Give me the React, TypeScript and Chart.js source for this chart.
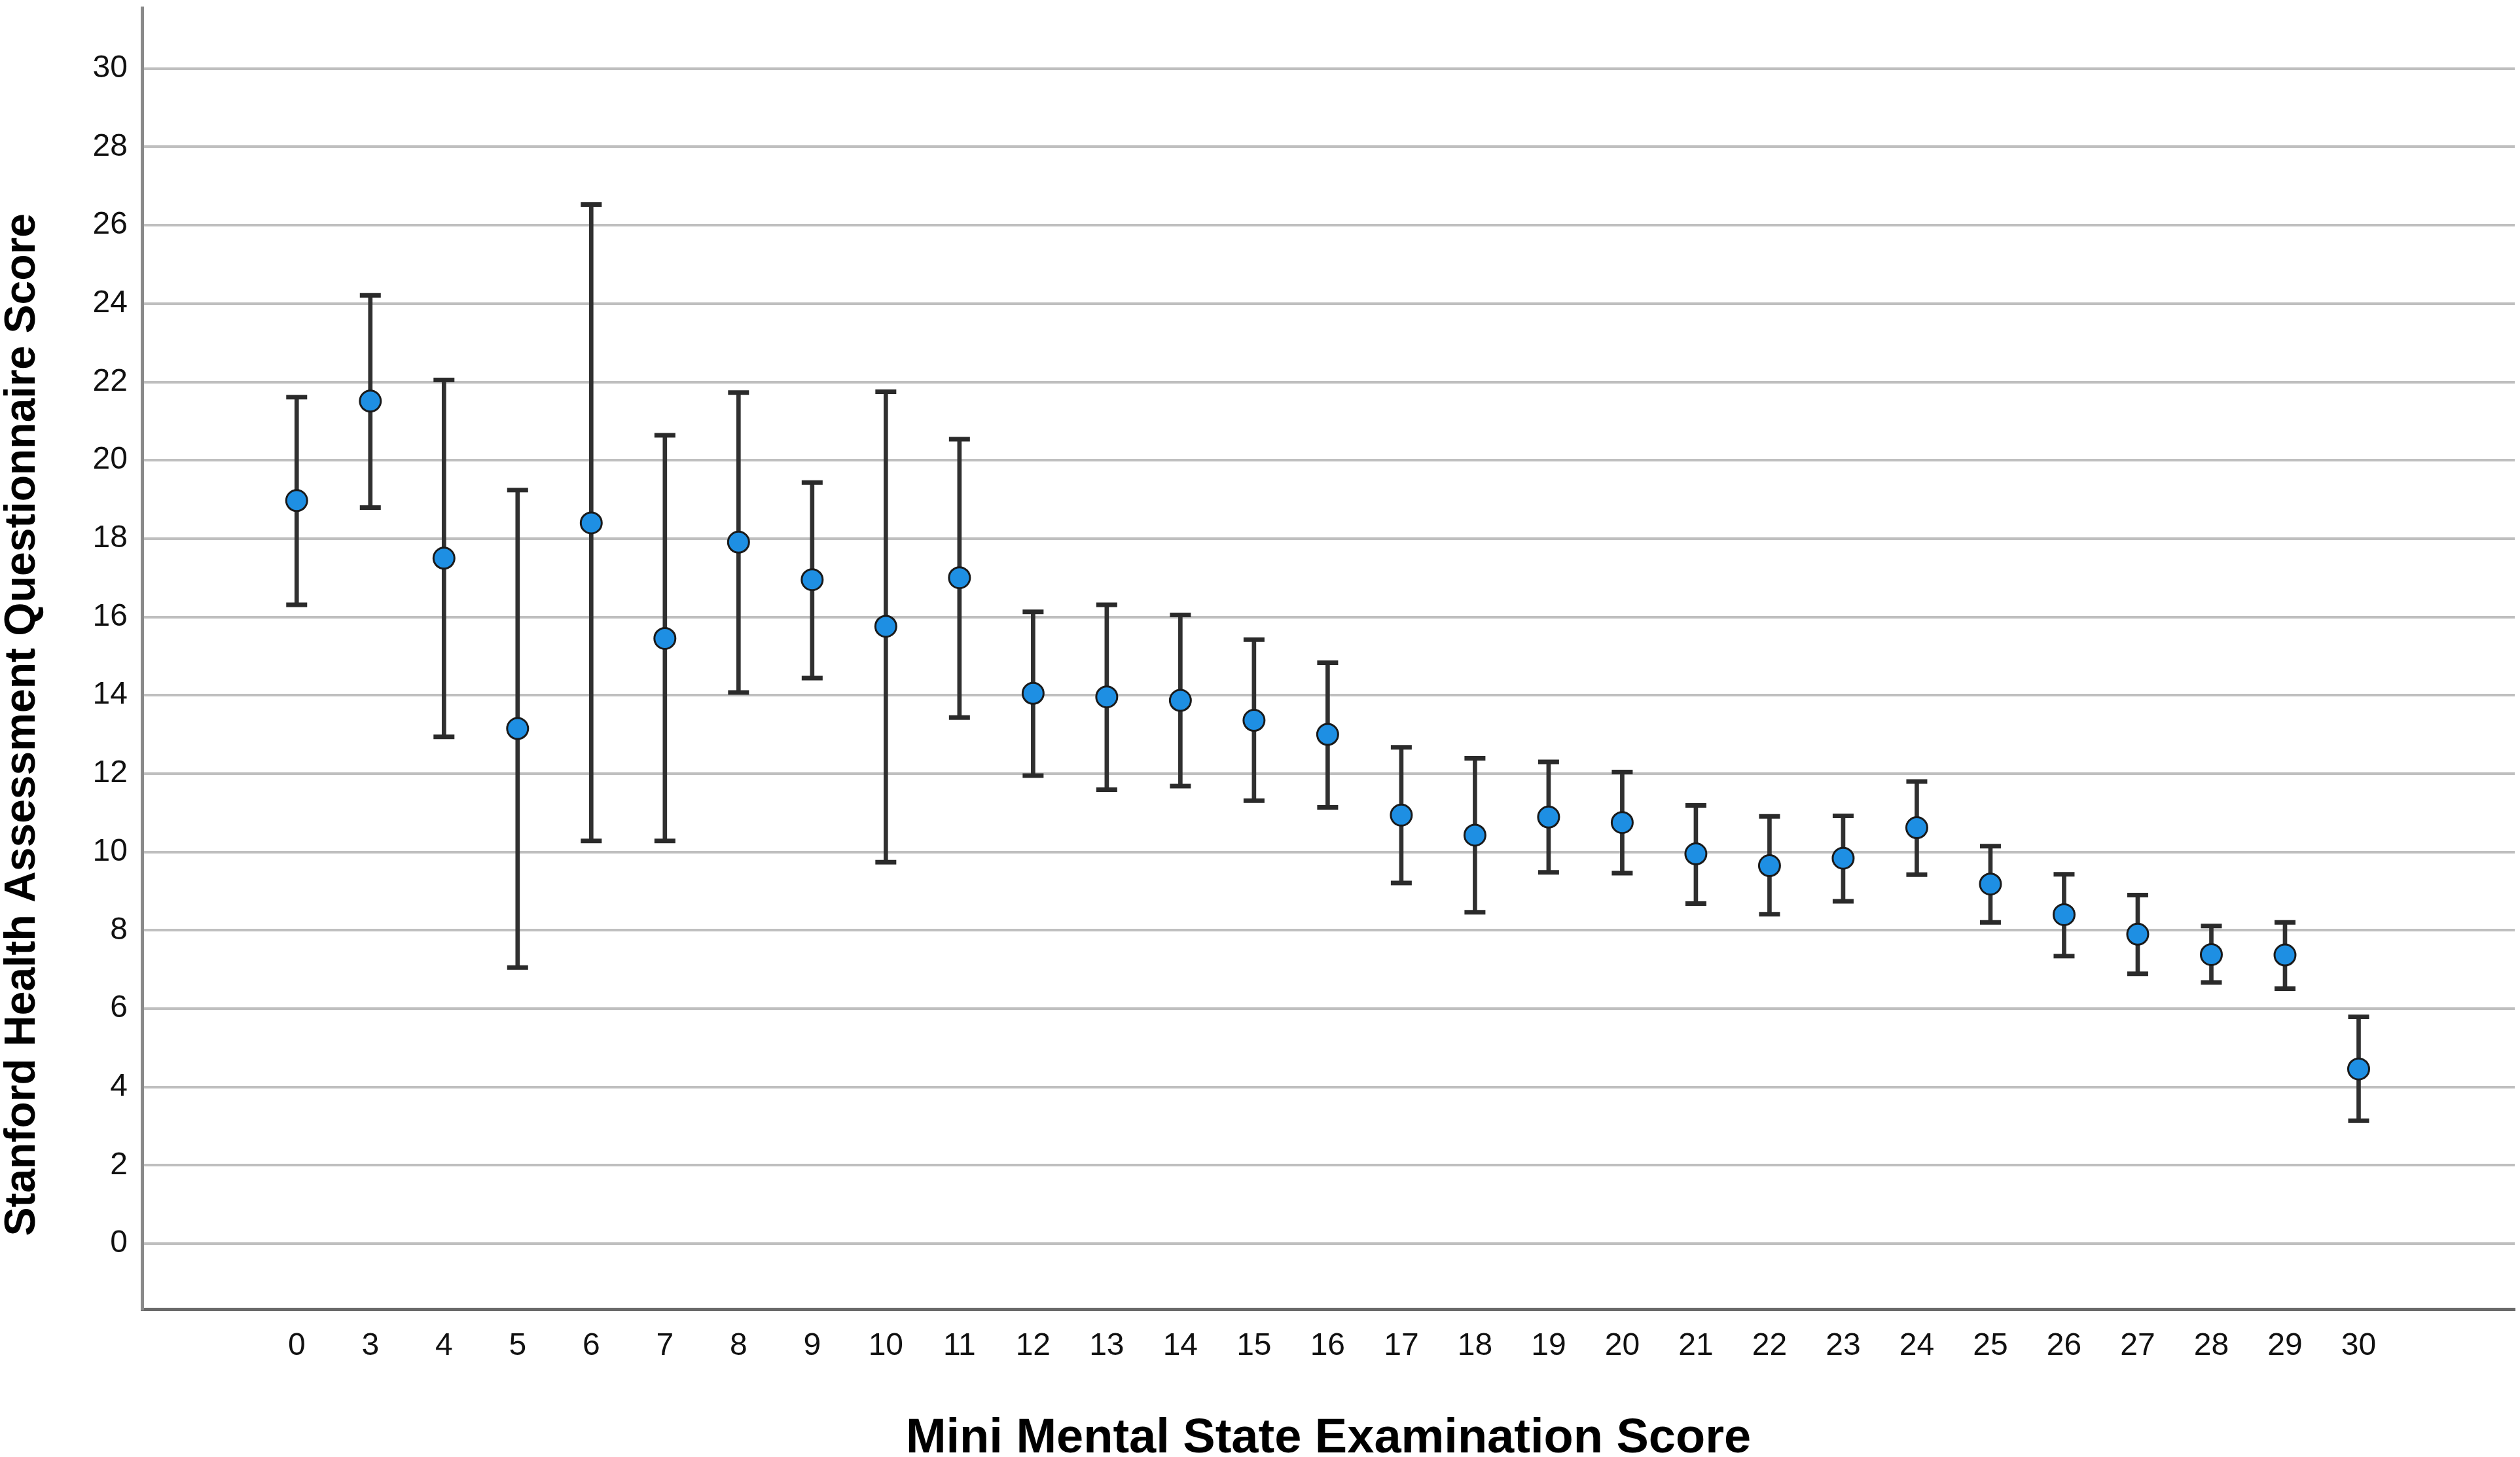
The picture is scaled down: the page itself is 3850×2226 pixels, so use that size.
import React, { useEffect, useRef } from 'react';
import { Chart, registerables } from 'chart.js';

Chart.register(...registerables);

// MMSE score groups on the x axis
const mmseScores = ['0', '3', '4', '5', '6', '7', '8', '9', '10', '11', '12', '13', '14', '15', '16', '17', '18', '19', '20', '21', '22', '23', '24', '25', '26', '27', '28', '29', '30'];

// mean SHAQ score per group
const shaqMeans = [18.97, 21.51, 17.5, 13.15, 18.4, 15.45, 17.91, 16.95, 15.76, 17.0, 14.05, 13.96, 13.87, 13.36, 13.0, 10.94, 10.43, 10.89, 10.75, 9.95, 9.65, 9.84, 10.62, 9.18, 8.4, 7.9, 7.38, 7.37, 4.46];

// error bar ends
const ciUpper = [21.61, 24.21, 22.05, 19.24, 26.53, 20.64, 21.73, 19.43, 21.75, 20.54, 16.13, 16.31, 16.05, 15.42, 14.83, 12.67, 12.39, 12.3, 12.04, 11.19, 10.91, 10.92, 11.8, 10.15, 9.43, 8.9, 8.11, 8.2, 5.79];
const ciLower = [16.31, 18.79, 12.94, 7.05, 10.28, 10.28, 14.07, 14.44, 9.74, 13.43, 11.95, 11.59, 11.68, 11.31, 11.14, 9.21, 8.46, 9.48, 9.46, 8.68, 8.41, 8.74, 9.42, 8.2, 7.34, 6.89, 6.67, 6.51, 3.14];

const yTickValues = [0, 2, 4, 6, 8, 10, 12, 14, 16, 18, 20, 22, 24, 26, 28, 30];

const X_TITLE = 'Mini Mental State Examination Score';
const Y_TITLE = 'Stanford Health Assessment Questionnaire Score';

const FONT = '"Liberation Sans", Arial, Helvetica, sans-serif';

// y title sits a bit below the middle of the axis, so draw it by hand
const yTitlePlugin = {
    id: 'yTitle',
    afterDraw(chart: Chart) {
        const { ctx, chartArea } = chart;
        ctx.save();
        ctx.font = `bold 66px ${FONT}`;
        ctx.fillStyle = '#000';
        ctx.textAlign = 'center';
        ctx.textBaseline = 'middle';
        ctx.translate(35, chartArea.top + (chartArea.bottom - chartArea.top) * 0.551);
        ctx.rotate(-Math.PI / 2);
        ctx.fillText(Y_TITLE, 0, 0);
        ctx.restore();
    },
};

const App: React.FC = () => {
    const canvasRef = useRef<HTMLCanvasElement>(null);
    const chartRef = useRef<Chart | null>(null);

    useEffect(() => {
        document.body.style.margin = '0';
        document.body.style.overflow = 'hidden';
        const ctx = canvasRef.current?.getContext('2d');
        if (!ctx) return;
        if (chartRef.current) {
            chartRef.current.destroy();
        }

        const idx = mmseScores.map((_, i) => i);

        chartRef.current = new Chart(ctx, {
            type: 'scatter',
            data: {
                datasets: [
                    {
                        type: 'scatter',
                        label: 'Mean',
                        data: idx.map((i) => ({ x: i, y: shaqMeans[i] })),
                        pointRadius: 16,
                        pointBackgroundColor: '#1e8fe3',
                        pointBorderColor: '#1a1a1a',
                        pointBorderWidth: 3,
                        order: 0,
                    },
                    {
                        type: 'scatter',
                        label: 'Caps',
                        data: [
                            ...idx.map((i) => ({ x: i, y: ciUpper[i] })),
                            ...idx.map((i) => ({ x: i, y: ciLower[i] })),
                        ],
                        pointStyle: 'line',
                        pointRadius: 16,
                        pointBorderColor: '#2a2a2a',
                        pointBorderWidth: 7,
                        order: 1,
                    },
                    {
                        type: 'bar',
                        label: 'CI',
                        data: idx.map((i) => ({ x: i, y: [ciLower[i], ciUpper[i]] })) as any,
                        backgroundColor: '#303030',
                        borderWidth: 0,
                        barThickness: 6,
                        order: 2,
                    } as any,
                ],
            },
            options: {
                animation: false,
                responsive: true,
                maintainAspectRatio: false,
                devicePixelRatio: 1,
                events: [],
                layout: { autoPadding: false, padding: { top: 12, right: 8, left: 0, bottom: 0 } },
                plugins: {
                    legend: { display: false },
                    tooltip: { enabled: false },
                },
                scales: {
                    x: {
                        type: 'linear',
                        min: -2.1,
                        max: 30.12,
                        offset: false,
                        grid: { drawOnChartArea: false, drawTicks: false },
                        border: { display: true, color: '#6a6a6a', width: 5 },
                        afterBuildTicks: (axis: any) => {
                            axis.ticks = idx.map((v) => ({ value: v }));
                        },
                        afterFit: (scale: any) => {
                            scale.height = 226;
                            scale.paddingLeft = 0;
                            scale.paddingRight = 0;
                        },
                        ticks: {
                            autoSkip: false,
                            maxRotation: 0,
                            padding: 28,
                            color: '#111',
                            font: { family: FONT, size: 48 },
                            callback: (value: any) => mmseScores[Number(value)] ?? '',
                        },
                        title: {
                            display: true,
                            text: X_TITLE,
                            color: '#000',
                            font: { family: FONT, size: 74, weight: 'bold', lineHeight: 1 },
                            padding: { top: 0, bottom: -10 },
                        },
                    },
                    y: {
                        type: 'linear',
                        min: -1.67,
                        max: 31.55,
                        grid: { color: '#bfbfbf', lineWidth: 4, drawTicks: false },
                        border: { display: true, color: '#8a8a8a', width: 5 },
                        afterBuildTicks: (axis: any) => {
                            axis.ticks = yTickValues.map((v) => ({ value: v }));
                        },
                        afterFit: (scale: any) => {
                            scale.width = 217;
                            scale.paddingTop = 0;
                            scale.paddingBottom = 0;
                        },
                        ticks: {
                            padding: 22,
                            color: '#111',
                            font: { family: FONT, size: 48 },
                        },
                    },
                },
            },
            plugins: [yTitlePlugin],
        });

        return () => {
            if (chartRef.current) {
                chartRef.current.destroy();
                chartRef.current = null;
            }
        };
    }, []);

    return (
        <div style={{ position: 'relative', width: '3850px', height: '2226px' }}>
            <canvas ref={canvasRef}></canvas>
        </div>
    );
};

export default App;
